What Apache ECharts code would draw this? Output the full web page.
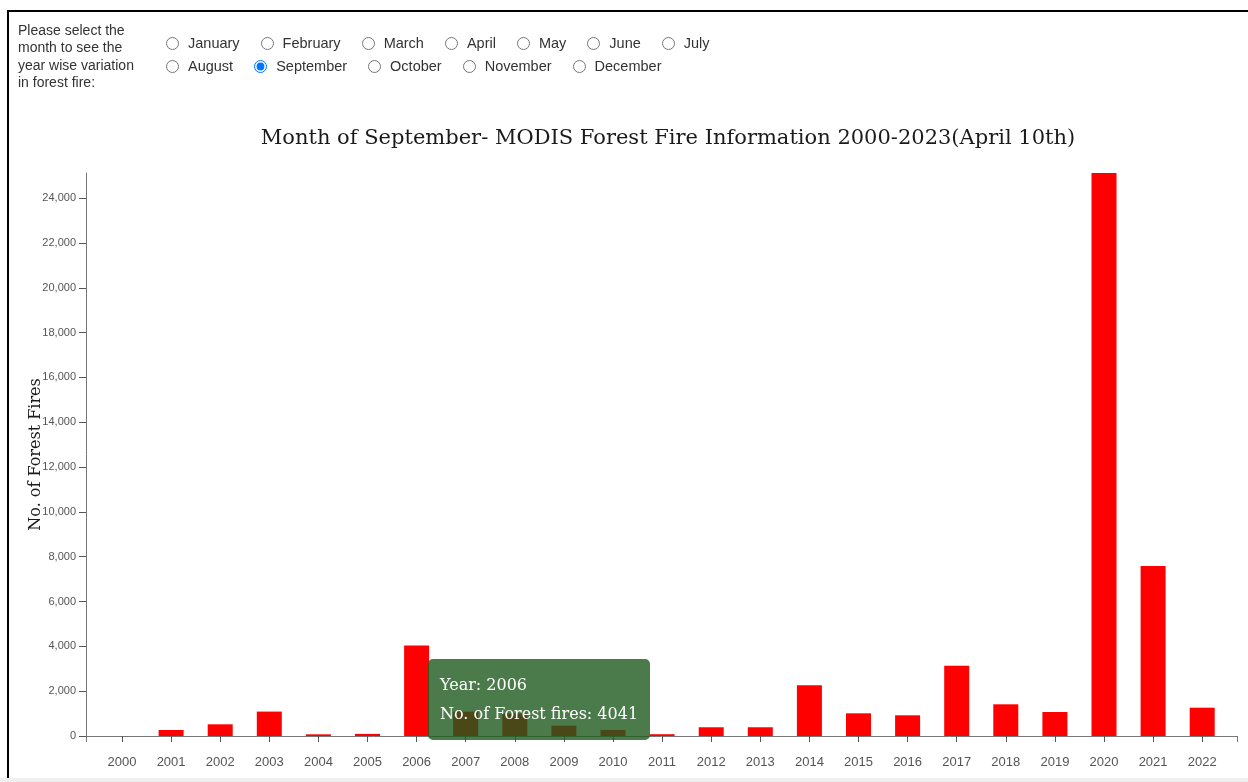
<!DOCTYPE html>
<html>
<head>
<meta charset="utf-8">
<script src="https://cdn.jsdelivr.net/npm/echarts@6/dist/echarts.min.js"></script>
<style>
  html, body { margin: 0; padding: 0; background: #fff; width: 1248px; height: 782px; overflow: hidden; }
  #frame { position: absolute; left: 7px; top: 10px; width: 1250px; height: 768px; border-left: 2px solid #000; border-top: 2px solid #000; box-sizing: border-box; }
  #foot { position: absolute; left: 0; top: 778px; width: 1248px; height: 4px; background: #f0f0f0; }
  #chart { position: absolute; left: 0; top: 0; width: 1248px; height: 778px; }
  #controls { position: absolute; left: 18px; top: 22px; display: flex; align-items: center; font-family: "Liberation Sans", Arial, sans-serif; font-size: 14px; color: #333; z-index: 5; }
  #prompt { width: 128px; line-height: 17.3px; }
  #months { margin-left: 20px; margin-top: -4px; font-size: 14.5px; }
  .row { display: flex; align-items: center; height: 23px; }
  .row label { display: flex; align-items: center; margin-right: 21px; }
  .row input { margin: 0 9px 0 0; width: 13px; height: 13px; }
</style>
</head>
<body>
<div id="chart"></div>
<div id="frame"></div>
<div id="foot"></div>
<div id="controls">
  <div id="prompt">Please select the month to see the year wise variation in forest fire:</div>
  <div id="months">
    <div class="row" id="row1"></div>
    <div class="row" id="row2"></div>
  </div>
</div>
<script>
const monthsRow1 = ["January", "February", "March", "April", "May", "June", "July"];
const monthsRow2 = ["August", "September", "October", "November", "December"];
const selectedMonth = "September";

const years = ["2000", "2001", "2002", "2003", "2004", "2005", "2006", "2007", "2008", "2009", "2010", "2011",
  "2012", "2013", "2014", "2015", "2016", "2017", "2018", "2019", "2020", "2021", "2022"];
const fires = [0, 268, 522, 1090, 75, 95, 4041, 1085, 1000, 460, 270, 80,
  390, 390, 2262, 1012, 923, 3137, 1414, 1071, 25120, 7584, 1263];
const yTicks = [0, 2000, 4000, 6000, 8000, 10000, 12000, 14000, 16000, 18000, 20000, 22000, 24000];
const hoverIndex = 6;

function addRadios(id, list) {
  const row = document.getElementById(id);
  list.forEach(function (m) {
    const lab = document.createElement("label");
    const inp = document.createElement("input");
    inp.type = "radio";
    inp.name = "month";
    inp.checked = m === selectedMonth;
    lab.appendChild(inp);
    lab.appendChild(document.createTextNode(m));
    row.appendChild(lab);
  });
}
addRadios("row1", monthsRow1);
addRadios("row2", monthsRow2);

const yMax = Math.max.apply(null, fires);
const axisColor = "#777";
const serif = "'DejaVu Serif', 'Liberation Serif', serif";

const myChart = echarts.init(document.getElementById("chart"));
const option = {
  animation: false,
  title: {
    text: "Month of " + selectedMonth + "- MODIS Forest Fire Information 2000-2023(April 10th)",
    left: 663,
    top: 123,
    textAlign: "center",
    textStyle: { fontFamily: serif, fontSize: 21, fontWeight: "normal", color: "#1a1a1a" },
  },
  tooltip: {
    trigger: "item",
    triggerOn: "none",
    alwaysShowContent: true,
    transitionDuration: 0,
    backgroundColor: "rgba(30,90,30,0.8)",
    borderWidth: 0,
    padding: [11, 12, 12, 12],
    extraCssText: "border-radius:5px;box-shadow:none;",
    textStyle: { color: "#fff", fontFamily: serif, fontSize: 16 },
    position: function () { return [428, 659]; },
    formatter: function (p) {
      return '<div style="line-height:29px">Year: ' + p.name + "<br/>No. of Forest fires: " + p.value + "</div>";
    },
  },
  grid: [
    // axis frame (d3-style outer padding)
    { left: 86, right: 11, top: 173, bottom: 42 },
    // bar bands
    { left: 97.45, right: 21.25, top: 173, bottom: 42 },
  ],
  xAxis: [
    {
      gridIndex: 0,
      type: "value",
      min: 0,
      max: 1,
      axisLine: { show: true, lineStyle: { color: axisColor } },
      axisTick: { show: true, length: 6, customValues: [0, 1], lineStyle: { color: axisColor } },
      axisLabel: { show: false },
      splitLine: { show: false },
    },
    {
      gridIndex: 1,
      type: "category",
      data: years,
      axisLine: { show: false },
      axisTick: { show: true, alignWithLabel: true, length: 6, lineStyle: { color: "#555" } },
      axisLabel: { color: "#555", fontSize: 13, margin: 20, fontFamily: "'Liberation Sans', Arial, sans-serif" },
    },
  ],
  yAxis: [
    {
      gridIndex: 0,
      type: "value",
      min: 0,
      max: yMax,
      name: "No. of Forest Fires",
      nameLocation: "middle",
      nameGap: 42,
      nameMoveOverlap: false,
      nameTextStyle: { fontFamily: serif, fontSize: 16, color: "#1a1a1a" },
      axisLine: { show: true, lineStyle: { color: axisColor } },
      axisTick: { show: true, length: 7, customValues: yTicks, lineStyle: { color: "#555" } },
      axisLabel: {
        customValues: yTicks,
        color: "#555",
        fontSize: 11,
        margin: 10,
        fontFamily: "'Liberation Sans', Arial, sans-serif",
        formatter: function (v) { return v.toLocaleString("en-US"); },
      },
      splitLine: { show: false },
    },
    {
      gridIndex: 1,
      type: "value",
      min: 0,
      max: yMax,
      show: false,
      splitLine: { show: false },
    },
  ],
  series: [
    {
      type: "bar",
      xAxisIndex: 1,
      yAxisIndex: 1,
      data: fires,
      barWidth: 25,
      itemStyle: { color: "#ff0000" },
    },
  ],
};
myChart.setOption(option);
myChart.dispatchAction({ type: "showTip", seriesIndex: 0, dataIndex: hoverIndex });
</script>
</body>
</html>
